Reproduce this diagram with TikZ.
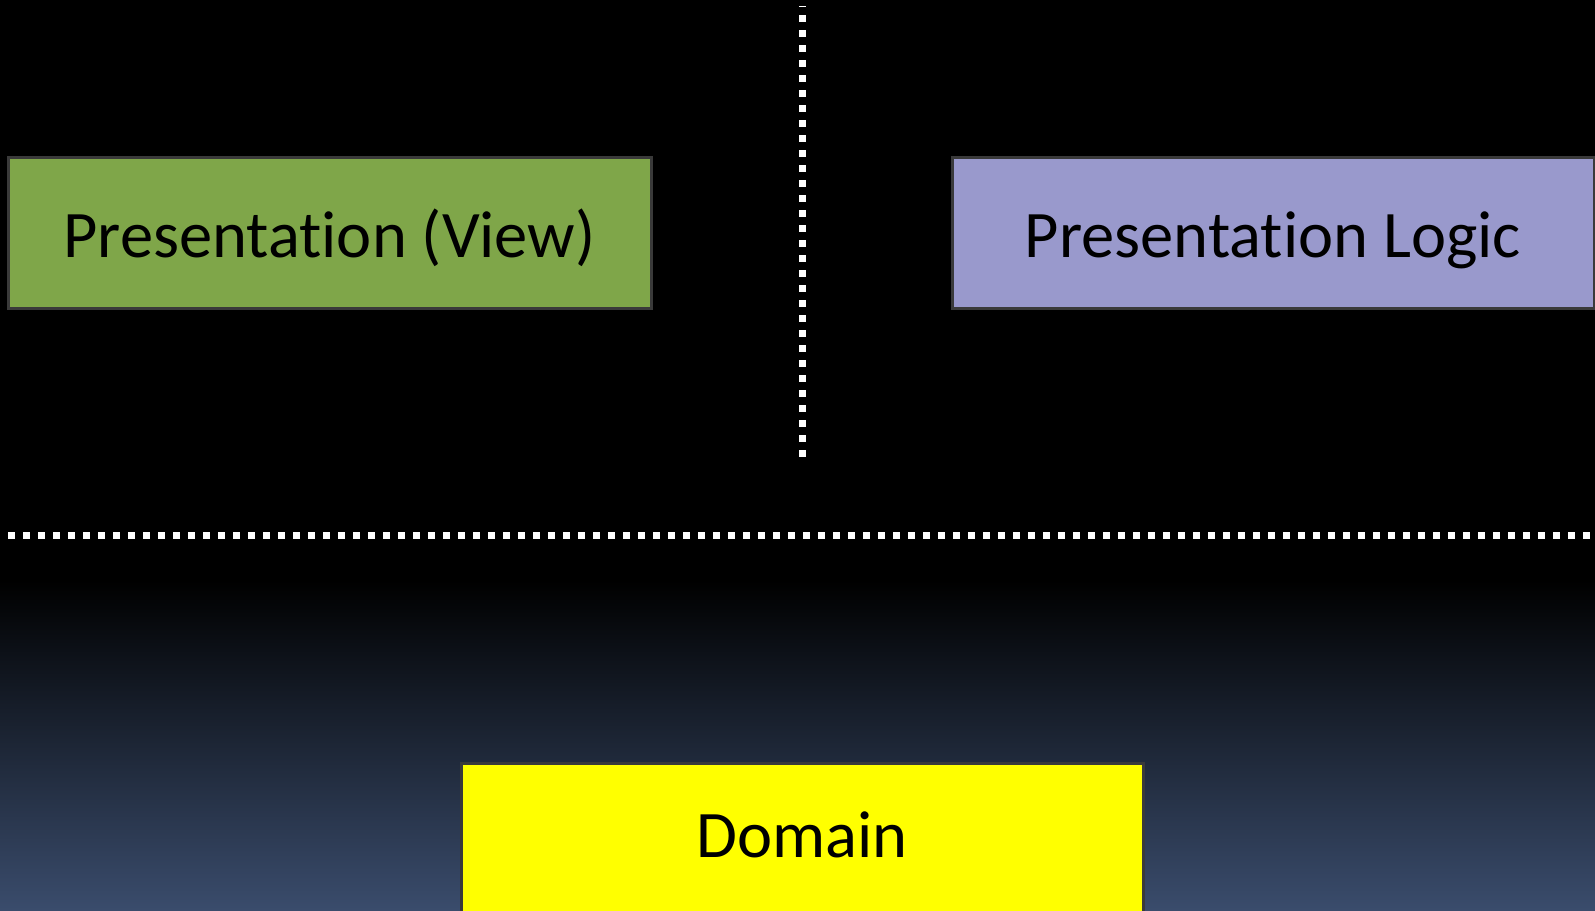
\documentclass[tikz,border=0pt]{standalone}
\usepackage{fontspec}
\setmainfont[Ligatures=NoCommon]{Carlito}
\usetikzlibrary{positioning}
\usetikzlibrary{backgrounds}
\definecolor{viewgreen}{RGB}{127,166,73}
\definecolor{logicpurple}{RGB}{153,153,204}
\definecolor{domainyellow}{RGB}{255,255,0}
\definecolor{boxborder}{RGB}{58,58,58}
\definecolor{bgblue}{RGB}{58,76,108}

\begin{document}
\begin{tikzpicture}[x=1pt, y=-1pt, font=\fontsize{66.5}{80}\selectfont,
                layer/.style={rectangle, draw=boxborder, line width=3pt, minimum height=151pt, inner sep=0pt,
                    text height=60pt, text depth=10pt},
                divider/.style={draw=white, line width=7pt, dash pattern=on 7pt off 8pt},
            ]
            \useasboundingbox (0,0) rectangle (1595,910);
            \fill[black] (0,0) rectangle (1595,910);
            \shade[top color=black, bottom color=bgblue] (0,580) rectangle (1595,910);
            \begin{scope}
                \clip (0,0) rectangle (1595,910);
                \node[layer, fill=viewgreen, minimum width=643pt](view) at (329.5,232.5) {Presentation (View)};
                \node[layer, fill=logicpurple, minimum width=642pt](logic) at (1273,232.5) {Presentation Logic};
                \node[layer, fill=domainyellow, minimum width=682pt, minimum height=170pt, anchor=north](domain) at (802,762) {};
                \node[below=46pt of domain.north](domaintext) {Domain};
            \end{scope}
            \coordinate (vtop) at (802,6);
            \coordinate (vbot) at (802,460);
            \coordinate (hleft) at (8,535);
            \coordinate (hright) at (1595,535);
            \path[divider, dash phase=6pt] (vtop) -- (vbot);
            \path[divider] (hleft) -- (hright);
\end{tikzpicture}
\end{document}
